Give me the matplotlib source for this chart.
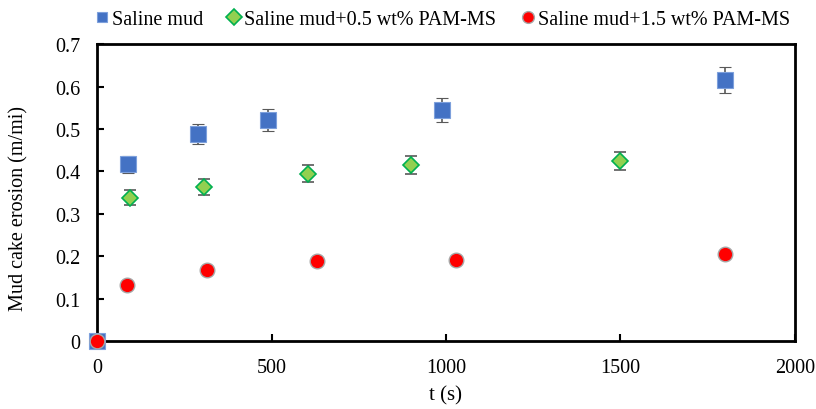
import numpy as np
import matplotlib.pyplot as plt

plt.rcParams['font.family'] = ['Liberation Serif', 'DejaVu Serif']

t_saline = [0, 90, 290, 490, 990, 1800]
y_saline = [0, 0.417, 0.488, 0.522, 0.545, 0.615]
e_saline = [0, 0.02, 0.024, 0.026, 0.028, 0.031]

t_pam05 = [95, 305, 605, 900, 1500]
y_pam05 = [0.338, 0.363, 0.394, 0.414, 0.425]
e_pam05 = [0.017, 0.018, 0.02, 0.021, 0.021]

t_pam15 = [0, 85, 315, 630, 1030, 1800]
y_pam15 = [0, 0.133, 0.167, 0.188, 0.19, 0.205]
e_pam15 = [0, 0.004, 0.005, 0.005, 0.005, 0.006]

fig = plt.figure(figsize=(8.16, 4.1), dpi=100)
ax = fig.add_axes([0.119, 0.166, 0.855, 0.724])

common = dict(ecolor='#595959', elinewidth=1.2, capsize=4, capthick=1.2)
p1 = ax.errorbar(t_saline, y_saline, yerr=e_saline, fmt='s', ms=11,
                 mfc='#4472C4', mec='#7DA0DC', mew=0.8,
                 label='Saline mud', zorder=3, **common)
p2 = ax.errorbar(t_pam05, y_pam05, yerr=e_pam05, fmt='D', ms=8,
                 mfc='#92D050', mec='#00B050', mew=1.2,
                 label='Saline mud+0.5 wt% PAM-MS', zorder=3, **common)
p3 = ax.errorbar(t_pam15, y_pam15, yerr=e_pam15, fmt='o', ms=10.5,
                 mfc='#FF0000', mec='#A6A6A6', mew=1.0,
                 label='Saline mud+1.5 wt% PAM-MS', zorder=4, **common)
for p in (p1, p2, p3):
    p[0].set_clip_on(False)

ax.set_xlim(0, 2000)
ax.set_ylim(0, 0.7)
ax.set_xticks([0, 500, 1000, 1500, 2000])
ax.set_yticks(np.arange(0, 0.71, 0.1))
ax.set_yticklabels(['0', '0.1', '0.2', '0.3', '0.4', '0.5', '0.6', '0.7'])
ax.tick_params(direction='in', length=5, width=1.5, labelsize=14.5)
ax.tick_params(axis='x', pad=12)
ax.tick_params(axis='y', pad=12)
for s in ax.spines.values():
    s.set_linewidth(2)
ax.set_xlabel('t (s)', fontsize=15, labelpad=6)
ax.set_ylabel('Mud cake erosion (m/mi)', fontsize=14.5)
ax.yaxis.set_label_coords(-0.099, 0.45)

h, l = ax.get_legend_handles_labels()
h = [x[0] for x in h]
leg = fig.legend(h, l, loc='center', bbox_to_anchor=(0.542, 0.95), ncol=3,
                 frameon=False, fontsize=14.5, handletextpad=0.15,
                 columnspacing=1.2, handlelength=0.7)
for hd, ms in zip(leg.legend_handles, [7, 8.5, 8.5]):
    hd.set_markersize(ms)

fig.savefig('out.png', dpi=100)
